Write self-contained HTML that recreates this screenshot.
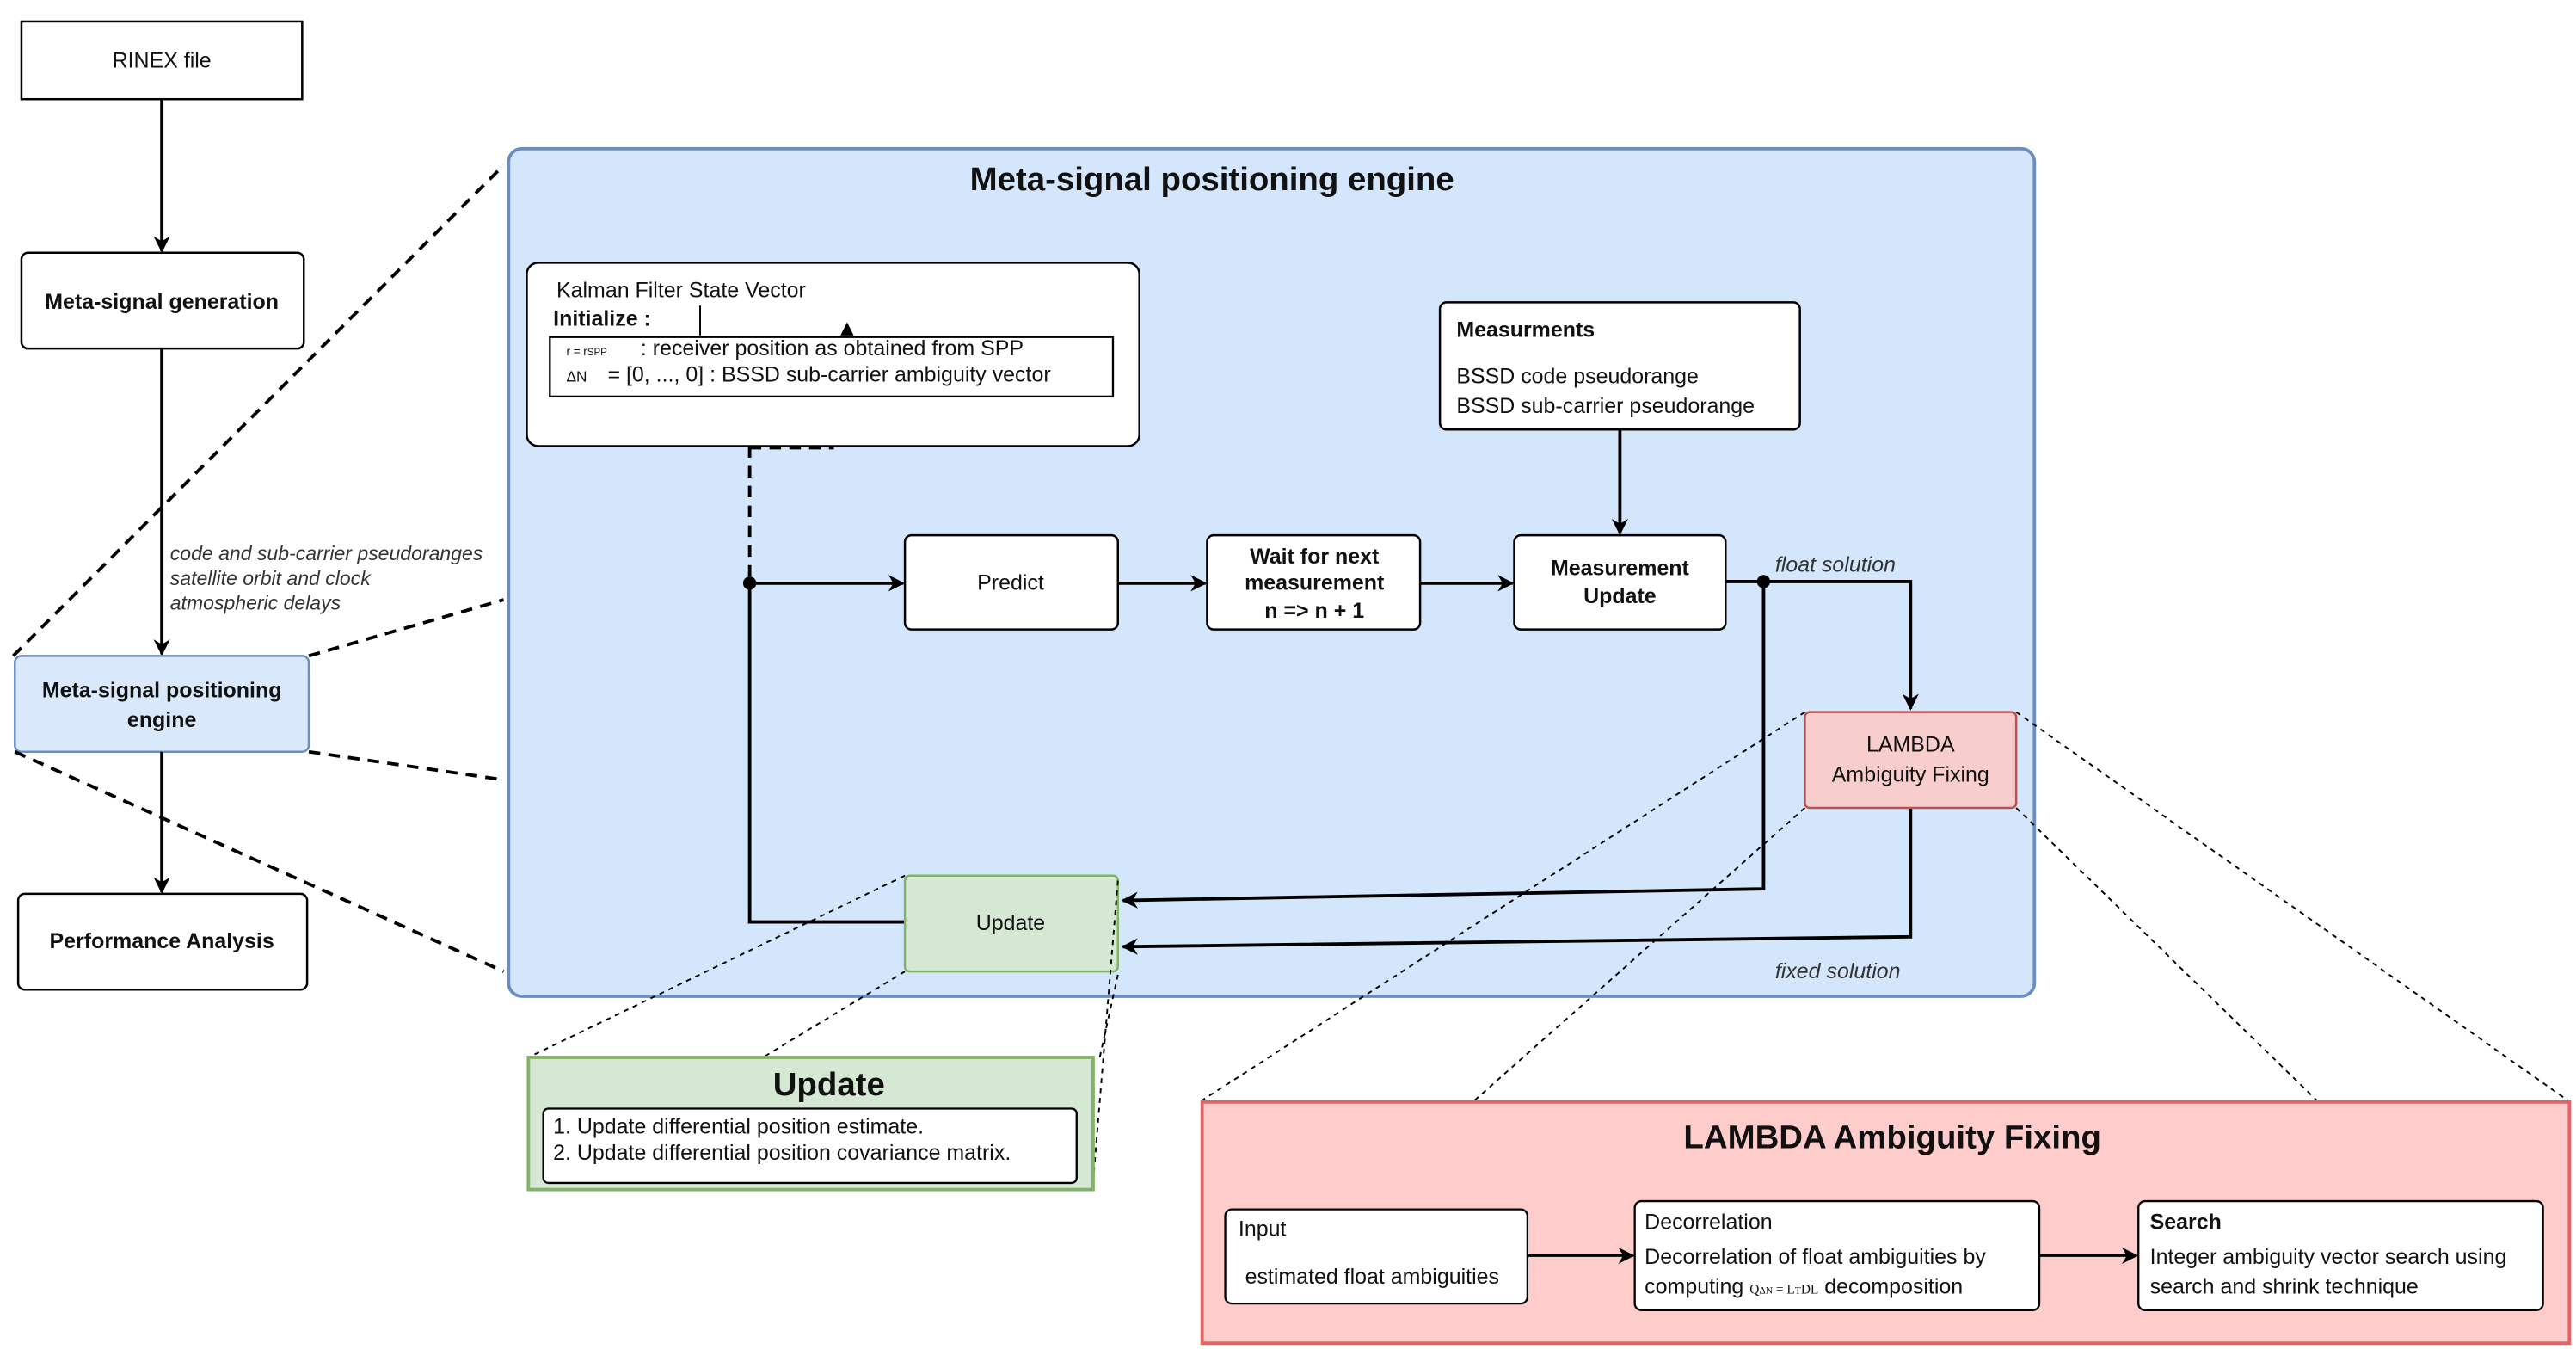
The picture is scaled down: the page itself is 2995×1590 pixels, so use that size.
<!DOCTYPE html>
<html><head><meta charset="utf-8"><style>
html,body{margin:0;padding:0;background:#fff;}
svg{display:block;}
text{font-family:"Liberation Sans",Arial,sans-serif;fill:#111;}
.b{font-weight:bold;}
.i{font-style:italic;fill:#333;}
</style></head><body>
<svg width="2995" height="1590" viewBox="0 0 1560 828" preserveAspectRatio="none" xmlns="http://www.w3.org/2000/svg">
<defs>
<marker id="a" markerWidth="10" markerHeight="10" refX="9" refY="5" orient="auto" markerUnits="userSpaceOnUse">
<path d="M0,0 L10,5 L0,10 L3,5 z" fill="#000"/></marker>
</defs>
<!-- big blue box -->
<rect x="308" y="90" width="924" height="513" rx="8" fill="#d4e6fb" stroke="#6c8ebf" stroke-width="2"/>
<text x="734" y="115" font-size="20" class="b" text-anchor="middle">Meta-signal positioning engine</text>

<!-- left column -->
<rect x="13" y="13" width="170" height="47" fill="#fff" stroke="#000" stroke-width="1.3"/>
<text x="98" y="41" font-size="13" text-anchor="middle">RINEX file</text>
<line x1="98" y1="60" x2="98" y2="152" stroke="#000" stroke-width="2" marker-end="url(#a)"/>
<rect x="13" y="153" width="171" height="58" rx="4" fill="#fff" stroke="#000" stroke-width="1.3"/>
<text x="98" y="187" font-size="13" class="b" text-anchor="middle">Meta-signal generation</text>
<line x1="98" y1="211" x2="98" y2="396" stroke="#000" stroke-width="2" marker-end="url(#a)"/>
<text x="103" y="339" font-size="12" class="i">code and sub-carrier pseudoranges</text>
<text x="103" y="354" font-size="12" class="i">satellite orbit and clock</text>
<text x="103" y="369" font-size="12" class="i">atmospheric delays</text>
<rect x="9" y="397" width="178" height="58" rx="4" fill="#dae8fc" stroke="#6c8ebf" stroke-width="1.3"/>
<text x="98" y="422" font-size="13" class="b" text-anchor="middle">Meta-signal positioning</text>
<text x="98" y="440" font-size="13" class="b" text-anchor="middle">engine</text>
<line x1="98" y1="455" x2="98" y2="540" stroke="#000" stroke-width="2" marker-end="url(#a)"/>
<rect x="11" y="541" width="175" height="58" rx="4" fill="#fff" stroke="#000" stroke-width="1.3"/>
<text x="98" y="574" font-size="13" class="b" text-anchor="middle">Performance Analysis</text>

<g stroke="#000" stroke-width="2" stroke-dasharray="7,5" fill="none">
<line x1="8" y1="397" x2="305" y2="100"/>
<line x1="187" y1="397" x2="305" y2="363"/>
<line x1="187" y1="455" x2="305" y2="472"/>
<line x1="9" y1="455" x2="305" y2="588"/>
</g>

<!-- Kalman box -->
<rect x="319" y="159" width="371" height="111" rx="7" fill="#fff" stroke="#000" stroke-width="1.3"/>
<text x="337" y="180" font-size="13">Kalman Filter State Vector</text>
<text x="335" y="197" font-size="13" class="b">Initialize :</text>
<line x1="424" y1="185" x2="424" y2="203" stroke="#000" stroke-width="1"/>
<path d="M509,203 L513,195 L517,203 z" fill="#000"/>
<rect x="333" y="204" width="341" height="36" fill="#fff" stroke="#000" stroke-width="1.2"/>
<text x="343" y="215" font-size="7" font-family="Liberation Serif">r = r<tspan font-size="6">SPP</tspan></text>
<text x="388" y="215" font-size="13">:  receiver position as obtained from SPP</text>
<text x="343" y="231" font-size="9" font-family="Liberation Serif">ΔN</text>
<text x="368" y="231" font-size="13">= [0, ...,  0] : BSSD sub-carrier ambiguity vector</text>
<line x1="454" y1="270" x2="454" y2="352" stroke="#000" stroke-width="2" stroke-dasharray="7,5"/>
<line x1="454" y1="271" x2="505" y2="271" stroke="#000" stroke-width="2" stroke-dasharray="7,5"/>

<!-- main flow -->
<circle cx="454" cy="353" r="4" fill="#000"/>
<line x1="454" y1="353" x2="547" y2="353" stroke="#000" stroke-width="2" marker-end="url(#a)"/>
<polyline points="454,353 454,558 548,558" fill="none" stroke="#000" stroke-width="2"/>
<rect x="548" y="324" width="129" height="57" rx="4" fill="#fff" stroke="#000" stroke-width="1.3"/>
<text x="612" y="357" font-size="13" text-anchor="middle">Predict</text>
<line x1="677" y1="353" x2="730" y2="353" stroke="#000" stroke-width="2" marker-end="url(#a)"/>
<rect x="731" y="324" width="129" height="57" rx="4" fill="#fff" stroke="#000" stroke-width="1.3"/>
<text x="796" y="341" font-size="13" class="b" text-anchor="middle">Wait for next</text>
<text x="796" y="357" font-size="13" class="b" text-anchor="middle">measurement</text>
<text x="796" y="374" font-size="13" class="b" text-anchor="middle">n =&gt; n + 1</text>
<line x1="860" y1="353" x2="916" y2="353" stroke="#000" stroke-width="2" marker-end="url(#a)"/>
<rect x="917" y="324" width="128" height="57" rx="4" fill="#fff" stroke="#000" stroke-width="1.3"/>
<text x="981" y="348" font-size="13" class="b" text-anchor="middle">Measurement</text>
<text x="981" y="365" font-size="13" class="b" text-anchor="middle">Update</text>
<rect x="872" y="183" width="218" height="77" rx="4" fill="#fff" stroke="#000" stroke-width="1.3"/>
<text x="882" y="204" font-size="13" class="b">Measurments</text>
<text x="882" y="232" font-size="13">BSSD code pseudorange</text>
<text x="882" y="250" font-size="13">BSSD sub-carrier pseudorange</text>
<line x1="981" y1="260" x2="981" y2="323" stroke="#000" stroke-width="2" marker-end="url(#a)"/>

<polyline points="1045,352 1157,352 1157,429" fill="none" stroke="#000" stroke-width="2" marker-end="url(#a)"/>
<circle cx="1068" cy="352" r="4" fill="#000"/>
<text x="1075" y="346" font-size="13" class="i">float solution</text>
<polyline points="1068,352 1068,538 680,545" fill="none" stroke="#000" stroke-width="2" marker-end="url(#a)"/>
<polyline points="1157,489 1157,567 680,573" fill="none" stroke="#000" stroke-width="2" marker-end="url(#a)"/>
<text x="1075" y="592" font-size="13" class="i">fixed solution</text>

<rect x="1093" y="431" width="128" height="58" rx="3" fill="#f8cecc" stroke="#b85450" stroke-width="1.3"/>
<text x="1157" y="455" font-size="13" text-anchor="middle">LAMBDA</text>
<text x="1157" y="473" font-size="13" text-anchor="middle">Ambiguity Fixing</text>
<rect x="548" y="530" width="129" height="58" rx="3" fill="#d5e8d4" stroke="#82b366" stroke-width="1.3"/>
<text x="612" y="563" font-size="13" text-anchor="middle">Update</text>

<!-- dotted zoom lines -->
<g stroke="#000" stroke-width="1" stroke-dasharray="3,3" fill="none">
<line x1="548" y1="530" x2="320" y2="640"/>
<line x1="548" y1="588" x2="462" y2="640"/>
<line x1="677" y1="533" x2="662" y2="715"/>
<line x1="677" y1="590" x2="666" y2="640"/>
<line x1="1093" y1="431" x2="728" y2="666"/>
<line x1="1093" y1="489" x2="893" y2="666"/>
<line x1="1221" y1="431" x2="1555" y2="666"/>
<line x1="1221" y1="489" x2="1403" y2="666"/>
</g>

<!-- Update detail -->
<rect x="320" y="640" width="342" height="80" fill="#d5e8d4" stroke="#82b366" stroke-width="2"/>
<text x="502" y="663" font-size="20" class="b" text-anchor="middle">Update</text>
<rect x="329" y="671" width="323" height="45" rx="3" fill="#fff" stroke="#000" stroke-width="1.2"/>
<text x="335" y="686" font-size="13">1. Update differential position estimate.</text>
<text x="335" y="702" font-size="13">2. Update differential position covariance matrix.</text>

<!-- LAMBDA detail -->
<rect x="728" y="667" width="828" height="146" fill="#ffcccc" stroke="#e06666" stroke-width="2"/>
<text x="1146" y="695" font-size="20" class="b" text-anchor="middle">LAMBDA Ambiguity Fixing</text>
<rect x="742" y="732" width="183" height="57" rx="4" fill="#fff" stroke="#000" stroke-width="1.2"/>
<text x="750" y="748" font-size="13">Input</text>
<text x="754" y="777" font-size="13">estimated float ambiguities</text>
<line x1="925" y1="760" x2="989" y2="760" stroke="#000" stroke-width="1.5" marker-end="url(#a)"/>
<rect x="990" y="727" width="245" height="66" rx="4" fill="#fff" stroke="#000" stroke-width="1.2"/>
<text x="996" y="744" font-size="13">Decorrelation</text>
<text x="996" y="765" font-size="13">Decorrelation of float ambiguities by</text>
<text x="996" y="783" font-size="13">computing <tspan font-size="8" font-family="Liberation Serif">Q<tspan font-size="6">ΔN</tspan> = L<tspan font-size="6">T</tspan>DL</tspan> decomposition</text>
<line x1="1235" y1="760" x2="1294" y2="760" stroke="#000" stroke-width="1.5" marker-end="url(#a)"/>
<rect x="1295" y="727" width="245" height="66" rx="4" fill="#fff" stroke="#000" stroke-width="1.2"/>
<text x="1302" y="744" font-size="13" class="b">Search</text>
<text x="1302" y="765" font-size="13">Integer ambiguity vector search using</text>
<text x="1302" y="783" font-size="13">search and shrink technique</text>
</svg>
</body></html>
